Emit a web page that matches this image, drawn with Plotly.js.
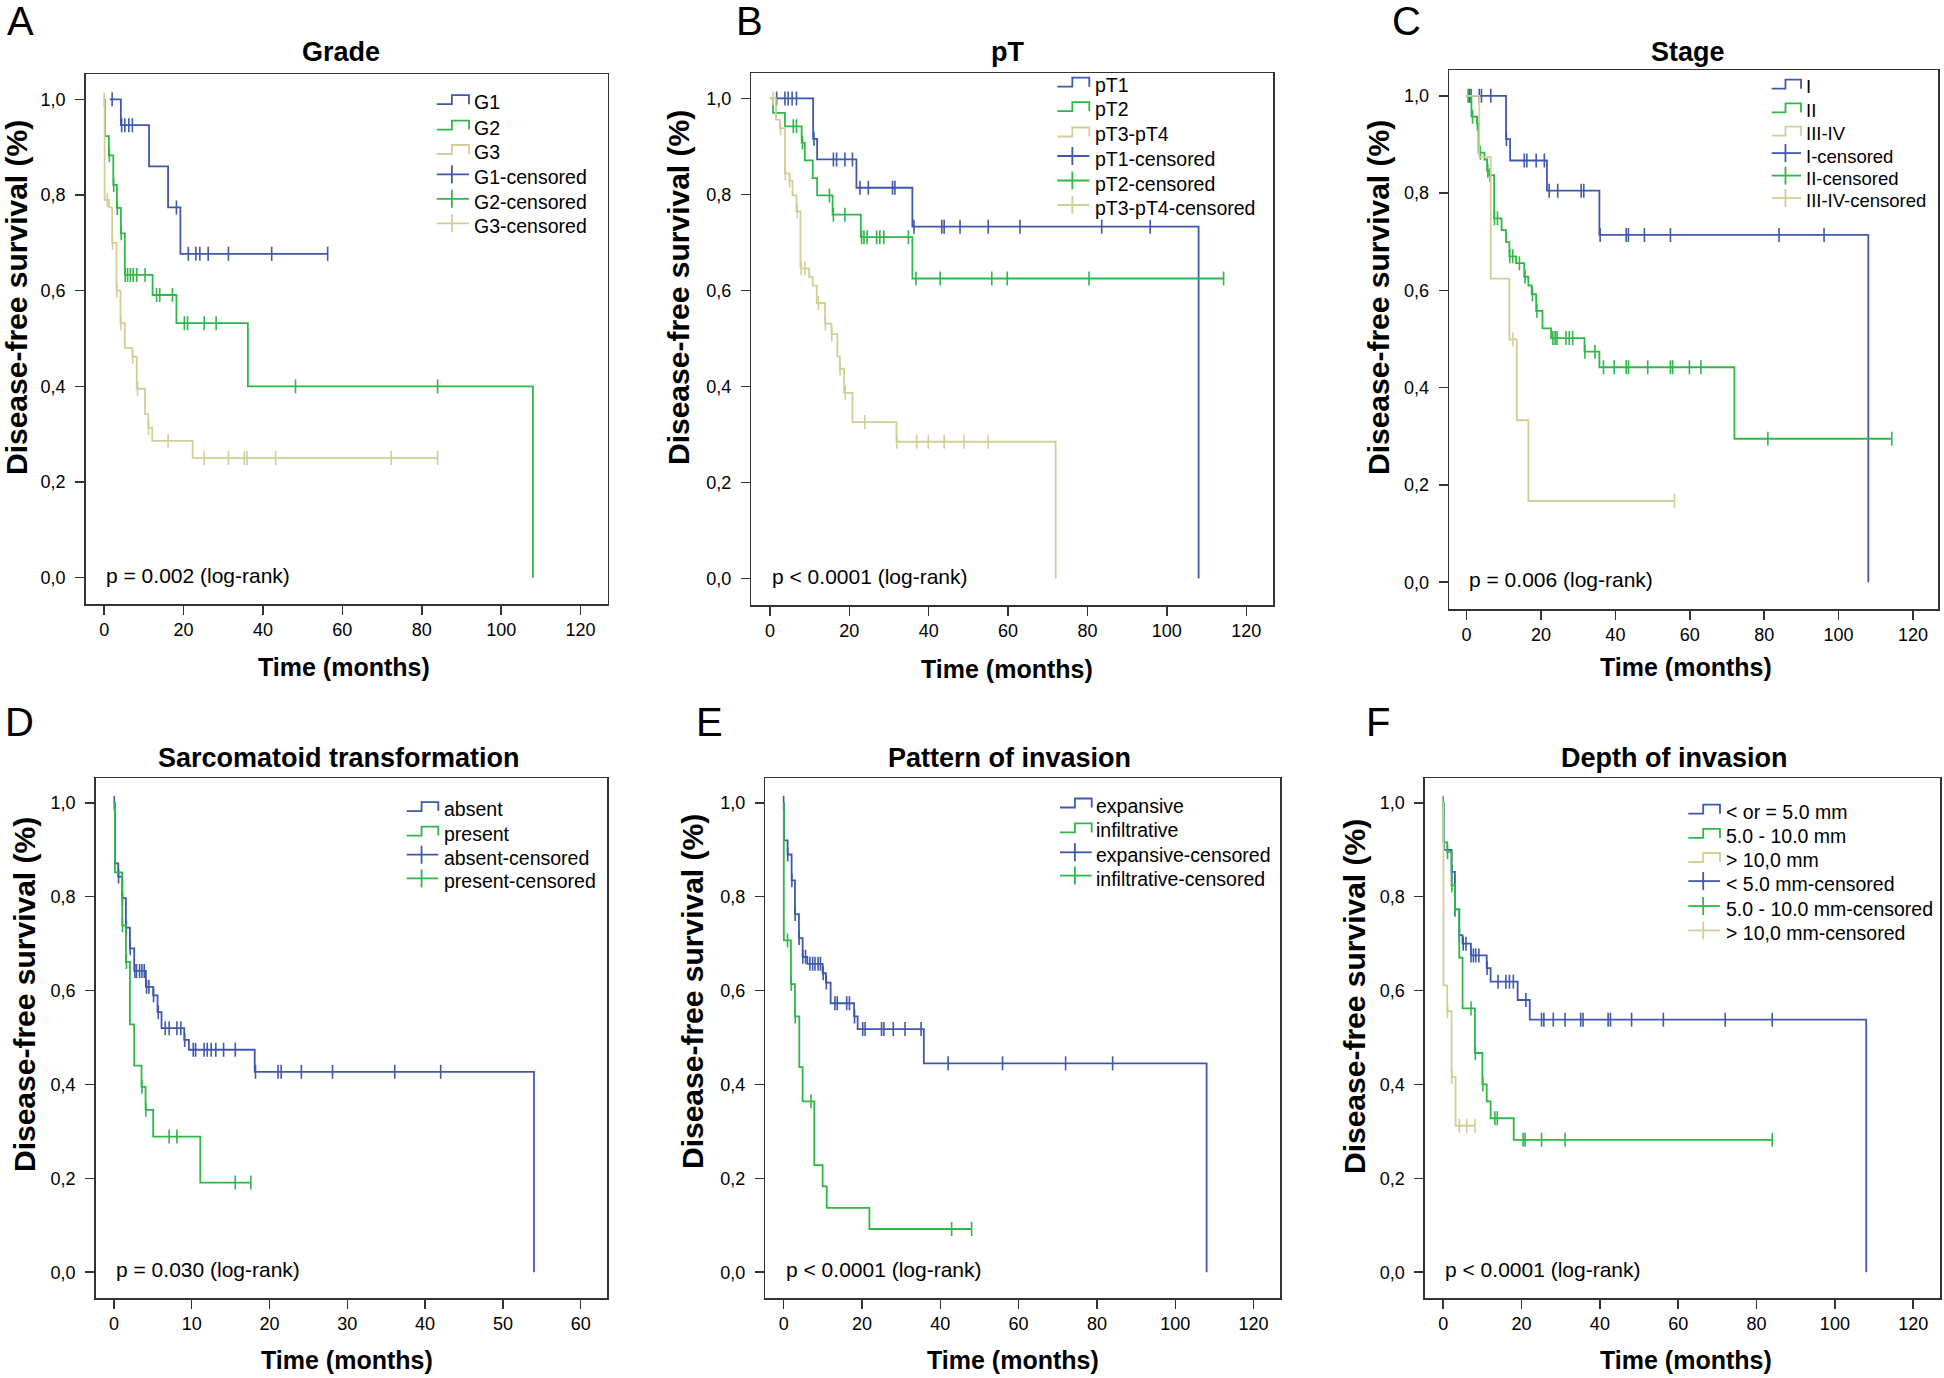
<!DOCTYPE html>
<html><head><meta charset="utf-8">
<script src="https://cdn.plot.ly/plotly-3.0.1.min.js"></script>
<style>html,body{margin:0;padding:0;background:#fff}#chart{width:1944px;height:1378px}</style>
</head><body><div id="chart"></div>
<script>
// ================= DATA =================
const xTicks120 = [0, 20, 40, 60, 80, 100, 120];
const xTicks60 = [0, 10, 20, 30, 40, 50, 60];
const yTickVals = [0, 0.2, 0.4, 0.6, 0.8, 1.0];
const yTickText = ['0,0', '0,2', '0,4', '0,6', '0,8', '1,0'];

const panelLetters = ['A', 'B', 'C', 'D', 'E', 'F'];
const panelTitles = ['Grade', 'pT', 'Stage', 'Sarcomatoid transformation', 'Pattern of invasion', 'Depth of invasion'];
const pValues = ['p = 0.002 (log-rank)', 'p < 0.0001 (log-rank)', 'p = 0.006 (log-rank)',
                 'p = 0.030 (log-rank)', 'p < 0.0001 (log-rank)', 'p < 0.0001 (log-rank)'];
const xTitleText = 'Time (months)';
const yTitleText = 'Disease-free survival (%)';

// ---- A: Grade ----
const gradeLegend = ['G1', 'G2', 'G3', 'G1-censored', 'G2-censored', 'G3-censored'];
const gradeG1Time = [1.4, 4.2, 11.3, 16.1, 19.2, 56.3];
const gradeG1Surv = [1.0, 0.946, 0.860, 0.774, 0.677, 0.677];
const gradeG1CensTime = [2.0, 4.4, 5.2, 6.2, 7.1, 18.2, 21.2, 23.1, 24.1, 26.2, 31.3, 42.2, 56.3];
const gradeG1CensSurv = [1.0, 0.946, 0.946, 0.946, 0.946, 0.774, 0.677, 0.677, 0.677, 0.677, 0.677, 0.677, 0.677];
const gradeG2Time = [0, 0.2, 1.2, 2.3, 3.2, 4.2, 5.2, 12.2, 18.2, 36.2, 108];
const gradeG2Surv = [1.0, 0.923, 0.883, 0.821, 0.773, 0.720, 0.633, 0.591, 0.532, 0.400, 0];
const gradeG2CensTime = [1.3, 2.4, 3.3, 4.3, 5.3, 5.9, 6.6, 7.3, 8.2, 10.3, 13.2, 14.0, 17.2, 20.2, 21.0, 25.2, 28.2, 48.2, 84.0];
const gradeG2CensSurv = [0.883, 0.821, 0.773, 0.720, 0.633, 0.633, 0.633, 0.633, 0.633, 0.633, 0.591, 0.591, 0.591, 0.532, 0.532, 0.532, 0.532, 0.400, 0.400];
const gradeG3Time = [0, 0.1, 1.2, 2.0, 3.1, 4.1, 5.2, 7.1, 8.2, 10.3, 11.1, 12.1, 22.3, 84.0];
const gradeG3Surv = [1.0, 0.790, 0.774, 0.700, 0.600, 0.532, 0.480, 0.462, 0.395, 0.342, 0.313, 0.286, 0.250, 0.250];
const gradeG3CensTime = [0, 0.8, 2.1, 3.2, 4.2, 7.2, 8.4, 11.2, 16.1, 25.2, 31.3, 35.3, 36.0, 43.2, 72.3, 84.0];
const gradeG3CensSurv = [1.0, 0.790, 0.700, 0.600, 0.532, 0.462, 0.395, 0.313, 0.286, 0.250, 0.250, 0.250, 0.250, 0.250, 0.250, 0.250];

// ---- B: pT ----
const ptLegend = ['pT1', 'pT2', 'pT3-pT4', 'pT1-censored', 'pT2-censored', 'pT3-pT4-censored'];
const ptT1Time = [1.3, 10.9, 11.9, 21.8, 35.9, 108];
const ptT1Surv = [1.0, 0.916, 0.873, 0.814, 0.733, 0];
const ptT1CensTime = [1.7, 3.8, 4.6, 5.6, 6.7, 11.1, 16.0, 16.8, 18.9, 20.8, 22.7, 24.8, 30.9, 31.5, 36.3, 43.3, 43.9, 47.9, 55.0, 63.0, 83.6, 95.8];
const ptT1CensSurv = [1, 1, 1, 1, 1, 0.916, 0.873, 0.873, 0.873, 0.873, 0.814, 0.814, 0.814, 0.814, 0.733, 0.733, 0.733, 0.733, 0.733, 0.733, 0.733, 0.733];
const ptT2Time = [0, 0.8, 3.8, 8.0, 8.8, 10.8, 11.9, 15.8, 22.9, 35.9, 114.3];
const ptT2Surv = [1.0, 0.970, 0.942, 0.908, 0.871, 0.834, 0.798, 0.758, 0.711, 0.625, 0.625];
const ptT2CensTime = [1.5, 5.9, 6.7, 8.2, 15.0, 16.0, 18.9, 23.1, 23.7, 24.5, 26.9, 27.7, 28.7, 34.9, 36.8, 42.9, 55.9, 59.8, 80.4, 114.3];
const ptT2CensSurv = [0.970, 0.942, 0.942, 0.908, 0.798, 0.758, 0.758, 0.711, 0.711, 0.711, 0.711, 0.711, 0.711, 0.711, 0.625, 0.625, 0.625, 0.625, 0.625, 0.625];
const ptT34Time = [0, 1.5, 2.5, 3.8, 4.9, 5.7, 6.7, 7.7, 9.9, 10.8, 11.8, 13.9, 15.5, 17.0, 17.6, 18.7, 20.8, 31.9, 72.0];
const ptT34Surv = [1.0, 0.956, 0.938, 0.844, 0.829, 0.798, 0.765, 0.646, 0.628, 0.610, 0.574, 0.531, 0.509, 0.463, 0.437, 0.387, 0.326, 0.285, 0];
const ptT34CensTime = [0.8, 2.7, 3.9, 5.0, 6.9, 7.9, 8.8, 12.2, 14.0, 15.6, 17.7, 19.0, 23.9, 32.0, 37.0, 39.9, 43.9, 48.9, 55.0];
const ptT34CensSurv = [1.0, 0.938, 0.844, 0.829, 0.765, 0.646, 0.646, 0.574, 0.531, 0.509, 0.437, 0.387, 0.326, 0.285, 0.285, 0.285, 0.285, 0.285, 0.285];

// ---- C: Stage ----
const stageLegend = ['I', 'II', 'III-IV', 'I-censored', 'II-censored', 'III-IV-censored'];
const stageITime = [0, 10.6, 11.7, 21.6, 35.7, 108];
const stageISurv = [1.0, 0.911, 0.867, 0.805, 0.714, 0];
const stageICensTime = [0.7, 1.2, 3.4, 4.0, 6.5, 10.7, 15.5, 16.2, 18.7, 20.9, 22.2, 24.5, 30.8, 31.5, 35.9, 42.9, 43.5, 47.8, 54.8, 84.0, 96.1];
const stageICensSurv = [1, 1, 1, 1, 1, 0.911, 0.867, 0.867, 0.867, 0.867, 0.805, 0.805, 0.805, 0.805, 0.714, 0.714, 0.714, 0.714, 0.714, 0.714, 0.714];
const stageIITime = [0, 1.3, 2.8, 3.2, 4.8, 5.5, 6.1, 7.4, 9.4, 10.6, 11.5, 13.3, 15.5, 16.6, 17.5, 18.7, 20.4, 22.7, 31.7, 35.7, 72.0, 114.3];
const stageIISurv = [1.0, 0.957, 0.943, 0.883, 0.869, 0.846, 0.837, 0.748, 0.724, 0.699, 0.670, 0.656, 0.628, 0.610, 0.592, 0.558, 0.522, 0.502, 0.474, 0.442, 0.295, 0.295];
const stageIICensTime = [0.4, 1.6, 2.9, 3.7, 5.7, 6.3, 7.5, 8.3, 11.6, 12.4, 14.2, 15.7, 17.7, 18.9, 23.2, 23.8, 24.3, 26.7, 27.6, 28.5, 31.8, 34.5, 36.8, 39.7, 42.9, 43.5, 48.7, 54.8, 55.4, 59.9, 63.0, 81.0, 114.3];
const stageIICensSurv = [1.0, 0.957, 0.943, 0.883, 0.846, 0.837, 0.748, 0.748, 0.670, 0.670, 0.656, 0.628, 0.592, 0.558, 0.502, 0.502, 0.502, 0.502, 0.502, 0.502, 0.474, 0.474, 0.442, 0.442, 0.442, 0.442, 0.442, 0.442, 0.442, 0.442, 0.442, 0.295, 0.295];
const stageIIITime = [0, 3.4, 6.5, 11.5, 13.5, 16.6, 55.9];
const stageIIISurv = [1.0, 0.874, 0.624, 0.499, 0.333, 0.167, 0.167];
const stageIIICensTime = [12.4, 55.9];
const stageIIICensSurv = [0.499, 0.167];

// ---- D: Sarcomatoid transformation ----
const sarcLegend = ['absent', 'present', 'absent-censored', 'present-censored'];
const sarcAbsentTime = [0, 0.13, 0.56, 1.07, 1.54, 2.06, 2.61, 4.11, 5.05, 5.61, 6.12, 9.04, 9.64, 18.1, 54.0];
const sarcAbsentSurv = [1.0, 0.871, 0.843, 0.797, 0.734, 0.690, 0.642, 0.608, 0.590, 0.554, 0.520, 0.495, 0.474, 0.427, 0];
const sarcAbsentCensTime = [0.05, 0.6, 1.1, 1.6, 2.1, 2.7, 2.9, 3.3, 3.6, 3.9, 4.2, 4.5, 5.1, 5.7, 6.6, 7.1, 8.1, 8.6, 9.1, 10.2, 10.5, 11.6, 12.0, 12.5, 13.1, 14.1, 15.6, 18.2, 21.1, 21.5, 24.1, 28.1, 36.1, 42.0];
const sarcAbsentCensSurv = [1.0, 0.843, 0.797, 0.734, 0.690, 0.642, 0.642, 0.642, 0.642, 0.642, 0.608, 0.608, 0.590, 0.554, 0.520, 0.520, 0.520, 0.520, 0.495, 0.474, 0.474, 0.474, 0.474, 0.474, 0.474, 0.474, 0.474, 0.427, 0.427, 0.427, 0.427, 0.427, 0.427, 0.427];
const sarcPresentTime = [0, 0.13, 1.07, 1.54, 2.06, 2.61, 3.55, 4.07, 5.05, 11.1, 17.6];
const sarcPresentSurv = [1.0, 0.852, 0.739, 0.661, 0.528, 0.440, 0.395, 0.346, 0.289, 0.191, 0.191];
const sarcPresentCensTime = [1.1, 1.6, 3.6, 4.1, 7.1, 8.1, 15.6, 17.6];
const sarcPresentCensSurv = [0.739, 0.661, 0.395, 0.346, 0.289, 0.289, 0.191, 0.191];

// ---- E: Pattern of invasion ----
const invLegend = ['expansive', 'infiltrative', 'expansive-censored', 'infiltrative-censored'];
const invExpTime = [0, 0.09, 1.02, 2.04, 2.89, 3.91, 4.85, 6.04, 9.96, 10.8, 12.0, 18.0, 18.9, 35.8, 108];
const invExpSurv = [1.0, 0.920, 0.890, 0.835, 0.763, 0.712, 0.672, 0.657, 0.637, 0.617, 0.573, 0.545, 0.518, 0.445, 0];
const invExpCensTime = [0, 1.05, 2.1, 2.95, 3.95, 4.9, 5.6, 6.7, 7.4, 8.0, 8.8, 9.4, 10.1, 10.9, 13.1, 13.7, 16.1, 16.8, 18.1, 20.2, 20.8, 25.0, 25.6, 28.0, 31.0, 35.1, 42.0, 55.9, 72.0, 84.0];
const invExpCensSurv = [1.0, 0.890, 0.835, 0.763, 0.712, 0.672, 0.672, 0.657, 0.657, 0.657, 0.657, 0.657, 0.637, 0.617, 0.573, 0.573, 0.573, 0.573, 0.545, 0.518, 0.518, 0.518, 0.518, 0.518, 0.518, 0.518, 0.445, 0.445, 0.445, 0.445];
const invInfTime = [0, 0.05, 1.87, 2.89, 4.0, 4.85, 7.83, 9.96, 11.0, 21.9, 48.0];
const invInfSurv = [1.0, 0.707, 0.614, 0.545, 0.437, 0.364, 0.228, 0.183, 0.137, 0.092, 0.092];
const invInfCensTime = [1.0, 1.95, 2.95, 7.0, 42.9, 48.0];
const invInfCensSurv = [0.707, 0.614, 0.545, 0.364, 0.092, 0.092];

// ---- F: Depth of invasion ----
const depthLegend = ['< or = 5.0 mm', '5.0 - 10.0 mm', '> 10,0 mm', '< 5.0 mm-censored', '5.0 - 10.0 mm-censored', '> 10,0 mm-censored'];
const depth1Time = [0, 0.17, 2.13, 2.98, 4.09, 4.94, 7.06, 11.1, 12.1, 19.0, 22.1, 108];
const depth1Surv = [1.0, 0.900, 0.853, 0.773, 0.718, 0.700, 0.675, 0.648, 0.619, 0.580, 0.538, 0];
const depth1CensTime = [2.2, 3.0, 4.1, 5.1, 5.8, 7.1, 7.7, 8.3, 9.1, 11.2, 14.0, 16.0, 16.9, 17.9, 21.1, 25.1, 25.7, 28.1, 31.1, 35.1, 35.7, 42.1, 42.7, 48.1, 56.2, 72.0, 84.0];
const depth1CensSurv = [0.853, 0.773, 0.718, 0.700, 0.700, 0.675, 0.675, 0.675, 0.675, 0.648, 0.619, 0.619, 0.619, 0.619, 0.580, 0.538, 0.538, 0.538, 0.538, 0.538, 0.538, 0.538, 0.538, 0.538, 0.538, 0.538, 0.538];
const depth2Time = [0, 0.05, 1.02, 2.13, 2.98, 4.09, 4.94, 8.09, 10.0, 11.1, 12.1, 18.0, 84.0];
const depth2Surv = [1.0, 0.916, 0.895, 0.824, 0.773, 0.670, 0.562, 0.467, 0.400, 0.364, 0.328, 0.282, 0.282];
const depth2CensTime = [0, 1.1, 2.2, 3.0, 7.1, 8.2, 10.1, 13.2, 13.8, 20.4, 20.9, 25.1, 31.1, 84.0];
const depth2CensSurv = [1.0, 0.895, 0.824, 0.773, 0.562, 0.467, 0.400, 0.328, 0.328, 0.282, 0.282, 0.282, 0.282, 0.282];
const depth3Time = [0, 0.05, 1.02, 2.13, 3.15, 8.1];
const depth3Surv = [1.0, 0.611, 0.556, 0.416, 0.312, 0.312];
const depth3CensTime = [1.1, 2.2, 4.1, 6.0, 8.1];
const depth3CensSurv = [0.556, 0.416, 0.312, 0.312, 0.312];

// ================= LAYOUT / DRAWING =================
const W = 1944, H = 1378;
const COLORS = ['#3E58AC', '#2EB848', '#D3CE97'];
const FONT = 'Arial, "Liberation Sans", sans-serif';
const X = px => px / W;
const Y = py => 1 - py / H;
const esc = s => s.replace(/&/g, '&amp;').replace(/</g, '&lt;').replace(/>/g, '&gt;');

const panels = [
  { xmax: 120, xticks: xTicks120, frame: [85.6, 74, 607.7, 604], legendText: gradeLegend,
    series: [[gradeG1Time, gradeG1Surv, gradeG1CensTime, gradeG1CensSurv],
             [gradeG2Time, gradeG2Surv, gradeG2CensTime, gradeG2CensSurv],
             [gradeG3Time, gradeG3Surv, gradeG3CensTime, gradeG3CensSurv]],
    leg: { L: 436.7, R: 469, tx: 472, rows: [102.2, 127.6, 152, 177.3, 201.8, 226.3], fs: 19.5 },
    letterPos: [20, 21], titlePos: [341, 52], xTitlePos: [343.5, 667], yTitlePos: [17, 298] },
  { xmax: 120, xticks: xTicks120, frame: [751.3, 73, 1273.4, 605], legendText: ptLegend,
    series: [[ptT1Time, ptT1Surv, ptT1CensTime, ptT1CensSurv],
             [ptT2Time, ptT2Surv, ptT2CensTime, ptT2CensSurv],
             [ptT34Time, ptT34Surv, ptT34CensTime, ptT34CensSurv]],
    leg: { L: 1057.3, R: 1089.3, tx: 1092.5, rows: [84.7, 109.2, 134.5, 159, 183.5, 208], fs: 19.5 },
    letterPos: [749, 21], titlePos: [1007, 52], xTitlePos: [1007, 669], yTitlePos: [678, 288] },
  { xmax: 120, xticks: xTicks120, frame: [1449.2, 70, 1938.4, 609], legendText: stageLegend,
    series: [[stageITime, stageISurv, stageICensTime, stageICensSurv],
             [stageIITime, stageIISurv, stageIICensTime, stageIICensSurv],
             [stageIIITime, stageIIISurv, stageIIICensTime, stageIIICensSurv]],
    leg: { L: 1771.7, R: 1801, tx: 1803.5, rows: [86.7, 110.4, 133.7, 156.1, 178.6, 201], fs: 18.5 },
    letterPos: [1406, 21], titlePos: [1688, 52], xTitlePos: [1686, 667], yTitlePos: [1379, 298] },
  { xmax: 60, xticks: xTicks60, frame: [95.7, 778, 607.3, 1298], legendText: sarcLegend,
    series: [[sarcAbsentTime, sarcAbsentSurv, sarcAbsentCensTime, sarcAbsentCensSurv],
             [sarcPresentTime, sarcPresentSurv, sarcPresentCensTime, sarcPresentCensSurv]],
    leg: { L: 406.7, R: 438.3, tx: 441.5, rows: [809.1, 833.6, 857.7, 881.4], fs: 19.5 },
    letterPos: [19, 722], titlePos: [338.5, 757.6], xTitlePos: [347, 1360], yTitlePos: [24, 995] },
  { xmax: 120, xticks: xTicks120, frame: [765.3, 778, 1280.4, 1298], legendText: invLegend,
    series: [[invExpTime, invExpSurv, invExpCensTime, invExpCensSurv],
             [invInfTime, invInfSurv, invInfCensTime, invInfCensSurv]],
    leg: { L: 1060, R: 1091.7, tx: 1094, rows: [805.5, 830.4, 855.3, 878.6], fs: 19.5 },
    letterPos: [709, 722], titlePos: [1009, 757.6], xTitlePos: [1013, 1360], yTitlePos: [692, 992] },
  { xmax: 120, xticks: xTicks120, frame: [1424.9, 778, 1940, 1298], legendText: depthLegend,
    series: [[depth1Time, depth1Surv, depth1CensTime, depth1CensSurv],
             [depth2Time, depth2Surv, depth2CensTime, depth2CensSurv],
             [depth3Time, depth3Surv, depth3CensTime, depth3CensSurv]],
    leg: { L: 1688.3, R: 1720, tx: 1723.5, rows: [811.7, 835.9, 860, 884.1, 909, 933.4], fs: 19.5 },
    letterPos: [1378, 722], titlePos: [1674, 757.6], xTitlePos: [1686, 1360], yTitlePos: [1354, 997] }
];

const traces = [];
const annotations = [];
const shapes = [];
const layout = {
  width: W, height: H, autosize: false,
  margin: { l: 0, r: 0, t: 0, b: 0, pad: 0 },
  paper_bgcolor: '#ffffff', plot_bgcolor: '#ffffff',
  showlegend: false, font: { family: FONT, color: '#000' }
};

panels.forEach((P, i) => {
  const k = i === 0 ? '' : String(i + 1);
  const f = P.frame;
  P.series.forEach((S, j) => {
    traces.push({ type: 'scatter', mode: 'lines', x: S[0], y: S[1], xaxis: 'x' + k, yaxis: 'y' + k,
      line: { shape: 'hv', color: COLORS[j], width: 1.8 }, hoverinfo: 'skip', showlegend: false });
    traces.push({ type: 'scatter', mode: 'markers', x: S[2], y: S[3], xaxis: 'x' + k, yaxis: 'y' + k,
      marker: { symbol: 'line-ns-open', size: 10, color: COLORS[j], line: { color: COLORS[j], width: 1.6 } },
      hoverinfo: 'skip', showlegend: false });
  });
  const axCommon = { ticks: 'outside', ticklen: 9, tickwidth: 1.5, tickcolor: '#333',
    showline: true, mirror: true, linecolor: '#333', linewidth: 1.5, showgrid: false, zeroline: false,
    tickfont: { family: FONT, size: 18, color: '#000' }, fixedrange: true };
  layout['xaxis' + k] = Object.assign({}, axCommon, { domain: [X(f[0]), X(f[2])],
    range: [-0.039 * P.xmax, 1.057 * P.xmax], anchor: 'y' + k, tickvals: P.xticks, tickmode: 'array', ticklabelstandoff: 0 });
  layout['yaxis' + k] = Object.assign({}, axCommon, { domain: [Y(f[3]), Y(f[1])],
    range: [-0.055, 1.053], anchor: 'x' + k, tickvals: yTickVals, ticktext: yTickText, tickmode: 'array', ticklabelstandoff: 6 });

  // texts
  annotations.push({ xref: 'paper', yref: 'paper', x: X(P.letterPos[0]), y: Y(P.letterPos[1]), text: panelLetters[i],
    showarrow: false, xanchor: 'center', yanchor: 'middle', font: { family: FONT, size: 40, color: '#000' } });
  annotations.push({ xref: 'paper', yref: 'paper', x: X(P.titlePos[0]), y: Y(P.titlePos[1]), text: '<b>' + panelTitles[i] + '</b>',
    showarrow: false, xanchor: 'center', yanchor: 'middle', font: { family: FONT, size: 27, color: '#000' } });
  annotations.push({ xref: 'paper', yref: 'paper', x: X(P.xTitlePos[0]), y: Y(P.xTitlePos[1]), text: '<b>' + xTitleText + '</b>',
    showarrow: false, xanchor: 'center', yanchor: 'middle', font: { family: FONT, size: 25, color: '#000' } });
  annotations.push({ xref: 'paper', yref: 'paper', x: X(P.yTitlePos[0]), y: Y(P.yTitlePos[1]), text: '<b>' + yTitleText + '</b>',
    textangle: -90, showarrow: false, xanchor: 'center', yanchor: 'middle', font: { family: FONT, size: 30, color: '#000' } });
  annotations.push({ xref: 'x' + k, yref: 'y' + k, x: 0, y: 0.005, text: esc(pValues[i]),
    showarrow: false, xanchor: 'left', yanchor: 'middle', font: { family: FONT, size: 21, color: '#000' } });

  // legend
  const n = P.series.length, L = P.leg;
  const mid = L.L + (L.R - L.L) * 0.47;
  P.legendText.forEach((txt, r) => {
    const c = L.rows[r];
    const col = COLORS[r % n];
    if (r < n) {
      shapes.push({ type: 'path', xref: 'paper', yref: 'paper', layer: 'above',
        path: `M ${X(L.L)},${Y(c + 2)} H ${X(mid)} V ${Y(c - 7)} H ${X(L.R)} V ${Y(c + 2)}`,
        line: { color: col, width: 1.8 } });
    } else {
      shapes.push({ type: 'line', xref: 'paper', yref: 'paper', layer: 'above',
        x0: X(L.L), x1: X(L.R), y0: Y(c - 3), y1: Y(c - 3), line: { color: col, width: 1.8 } });
      shapes.push({ type: 'line', xref: 'paper', yref: 'paper', layer: 'above',
        x0: X(mid), x1: X(mid), y0: Y(c - 12), y1: Y(c + 6), line: { color: col, width: 1.8 } });
    }
    annotations.push({ xref: 'paper', yref: 'paper', x: X(L.tx), y: Y(c), text: esc(txt), showarrow: false,
      xanchor: 'left', yanchor: 'middle', font: { family: FONT, size: L.fs, color: '#000' } });
  });
});

layout.annotations = annotations;
layout.shapes = shapes;
Plotly.newPlot('chart', traces, layout, { staticPlot: true, displayModeBar: false });
</script>
</body></html>
